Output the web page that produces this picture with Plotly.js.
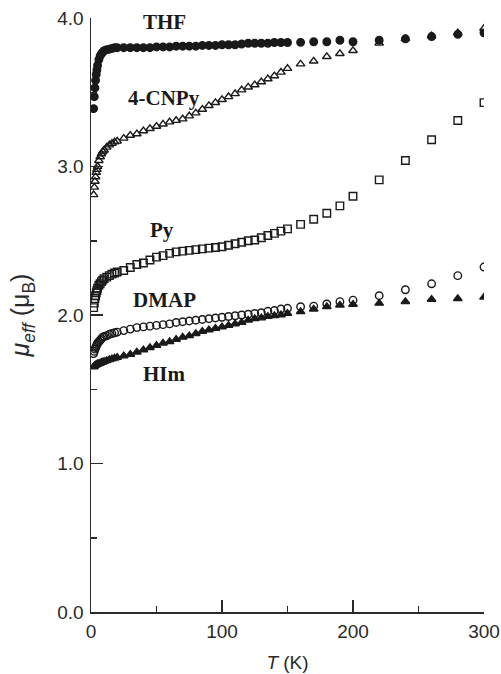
<!DOCTYPE html>
<html>
<head>
<meta charset="utf-8">
<script src="https://cdn.plot.ly/plotly-3.0.1.min.js"></script>
<style>html,body{margin:0;padding:0;background:#fff;}#chart{width:501px;height:674px;}</style>
</head>
<body>
<div id="chart"></div>
<script>
// Temperature (K)
var T = [2,2.5,3,3.5,4,4.5,5,6,7,8,9,10,12,14,16,18,
  20,25,30,35,40,45,50,55,60,65,70,75,80,85,90,95,100,105,110,115,120,125,130,135,140,145,150,
  160,170,180,190,200,220,240,260,280,300];

// mu_eff (mu_B) for each compound
var muTHF = [3.39,3.47,3.53,3.58,3.62,3.65,3.68,3.72,3.745,3.76,3.77,3.78,3.787,3.79,3.795,3.80,
  3.80,3.80,3.80,3.80,3.80,3.80,3.805,3.805,3.805,3.81,3.81,3.81,3.81,3.815,3.815,3.815,3.82,3.82,3.82,3.825,3.83,3.83,3.83,3.83,3.835,3.835,3.835,
  3.836,3.84,3.84,3.85,3.84,3.85,3.86,3.875,3.89,3.90];
var muCNPy = [2.81,2.86,2.90,2.93,2.96,2.98,3.00,3.04,3.065,3.085,3.10,3.11,3.13,3.145,3.155,3.165,
  3.17,3.19,3.21,3.22,3.24,3.255,3.27,3.285,3.30,3.31,3.32,3.34,3.36,3.385,3.41,3.43,3.45,3.47,3.49,3.515,3.535,3.55,3.57,3.59,3.61,3.635,3.66,
  3.69,3.71,3.74,3.76,3.78,3.83,3.86,3.88,3.90,3.93];
var muPy = [2.05,2.08,2.11,2.13,2.15,2.165,2.18,2.20,2.21,2.225,2.235,2.245,2.255,2.265,2.275,2.283,
  2.29,2.30,2.32,2.34,2.35,2.37,2.39,2.40,2.415,2.425,2.43,2.435,2.44,2.445,2.45,2.455,2.46,2.47,2.48,2.49,2.50,2.505,2.52,2.535,2.55,2.565,2.58,
  2.61,2.645,2.685,2.735,2.80,2.91,3.04,3.18,3.31,3.43];
var muDMAP = [1.74,1.755,1.77,1.78,1.79,1.80,1.81,1.82,1.83,1.84,1.85,1.855,1.86,1.87,1.875,1.88,
  1.885,1.895,1.905,1.915,1.92,1.925,1.93,1.935,1.94,1.95,1.955,1.96,1.965,1.97,1.975,1.98,1.985,1.99,1.995,2.0,2.005,2.01,2.015,2.025,2.03,2.04,2.045,
  2.056,2.06,2.074,2.09,2.10,2.13,2.17,2.21,2.265,2.323];
var muHIm = [1.65,1.655,1.66,1.663,1.665,1.667,1.67,1.672,1.675,1.68,1.683,1.687,1.693,1.70,1.705,1.71,
  1.715,1.725,1.735,1.75,1.765,1.78,1.795,1.81,1.82,1.835,1.85,1.86,1.875,1.89,1.90,1.91,1.92,1.93,1.94,1.95,1.965,1.975,1.98,1.99,1.995,2.0,2.01,
  2.022,2.04,2.056,2.067,2.072,2.079,2.09,2.105,2.11,2.12];

var labels = ['THF','4-CNPy','Py','DMAP','HIm'];
var labelT = [56, 56, 54, 56, 56];
var labelMu = [3.973, 3.461, 2.572, 2.10, 1.603];

var ink = '#1a1a1a';
function tr(y, sym, name){
  return {x:T, y:y, type:'scatter', mode:'markers', name:name,
    marker:{symbol:sym, size:7.5, color:ink, line:{color:ink, width:1.4}}};
}
var data = [
  tr(muTHF, 'circle', 'THF'),
  tr(muCNPy, 'triangle-up-open', '4-CNPy'),
  tr(muPy, 'square-open', 'Py'),
  tr(muDMAP, 'circle-open', 'DMAP'),
  tr(muHIm, 'triangle-up', 'HIm')
];

var annotations = labels.map(function(t,i){
  return {x:labelT[i], y:labelMu[i], xref:'x', yref:'y', text:t, showarrow:false,
    font:{family:'Liberation Serif, Times New Roman, serif', size:21, color:ink, weight:'bold'},
    xanchor:'center', yanchor:'middle'};
});

var axisInk = '#2a2a2a';
var layout = {
  width:501, height:674,
  margin:{l:91, r:17, t:18, b:62},
  paper_bgcolor:'#fff', plot_bgcolor:'#fff',
  showlegend:false,
  font:{family:'Liberation Sans, Arial, sans-serif', size:19, color:axisInk},
  xaxis:{range:[0,300], showgrid:false, zeroline:false, showline:true, linecolor:axisInk, linewidth:1.5,
    tickmode:'linear', tick0:0, dtick:100,
    ticks:'inside', ticklen:12, tickwidth:1.5, tickcolor:axisInk,
    minor:{tick0:0, dtick:50, ticks:'inside', ticklen:6, tickwidth:1.5, tickcolor:axisInk, showgrid:false},
    tickfont:{size:19}, ticklabelstandoff:2,
    title:{text:'<i>T</i> (K)', font:{size:19}, standoff:14}},
  yaxis:{range:[0,4], showgrid:false, zeroline:false, showline:true, linecolor:axisInk, linewidth:1.5,
    tickmode:'linear', tick0:0, dtick:1, tickformat:'.1f',
    ticks:'inside', ticklen:12, tickwidth:1.5, tickcolor:axisInk,
    minor:{tick0:0, dtick:0.5, ticks:'inside', ticklen:6, tickwidth:1.5, tickcolor:axisInk, showgrid:false},
    tickfont:{size:19}, ticklabelstandoff:2,
    title:{text:'<i>μ<sub>eff</sub></i> (μ<sub>B</sub>)', font:{size:25}, standoff:20}},
  annotations:annotations
};

Plotly.newPlot('chart', data, layout, {displayModeBar:false, staticPlot:true});
</script>
</body>
</html>
